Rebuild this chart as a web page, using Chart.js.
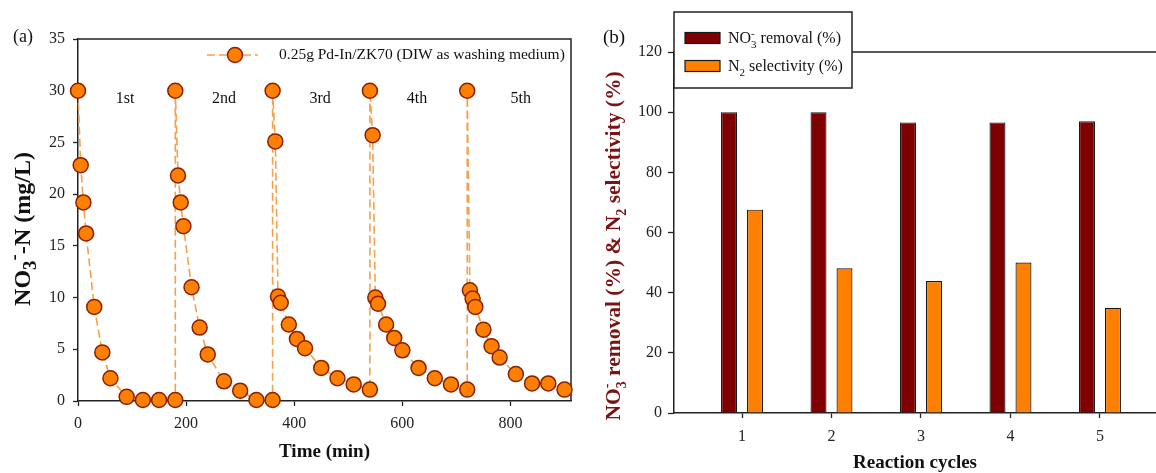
<!DOCTYPE html>
<html>
<head>
<meta charset="utf-8">
<script src="https://cdn.jsdelivr.net/npm/chart.js@4.4.1/dist/chart.umd.min.js"></script>
<style>
  html, body { margin: 0; padding: 0; background: #fff; overflow: hidden; }
  #panelA { position: absolute; left: 0; top: 0; }
  #panelB { position: absolute; left: 590px; top: 0; }
</style>
</head>
<body>
<canvas id="panelA" width="590" height="473"></canvas>
<canvas id="panelB" width="566" height="473"></canvas>
<script>
const SERIF = "'Liberation Serif', 'Times New Roman', serif";

// ---- Panel (a): nitrate-N concentration across five reuse cycles ----
const timeMin = [
  0, 5, 10, 15, 30, 45, 60, 90, 120, 150, 180,
  180, 185, 190, 195, 210, 225, 240, 270, 300, 330, 360,
  360, 365, 370, 375, 390, 405, 420, 450, 480, 510, 540,
  540, 545, 550, 555, 570, 585, 600, 630, 660, 690, 720,
  720, 725, 730, 735, 750, 765, 780, 810, 840, 870, 900
];
const nitrateN = [
  30, 22.8, 19.2, 16.2, 9.1, 4.7, 2.2, 0.4, 0.1, 0.1, 0.1,
  30, 21.8, 19.2, 16.9, 11.0, 7.1, 4.5, 1.9, 1.0, 0.1, 0.1,
  30, 25.1, 10.1, 9.5, 7.4, 6.0, 5.1, 3.2, 2.2, 1.6, 1.1,
  30, 25.7, 10.0, 9.4, 7.4, 6.1, 4.9, 3.2, 2.2, 1.6, 1.1,
  30, 10.7, 9.9, 9.1, 6.9, 5.3, 4.2, 2.6, 1.7, 1.7, 1.1
];
const seriesLabelA = '0.25g Pd-In/ZK70 (DIW as washing medium)';
const cycleNames = ['1st', '2nd', '3rd', '4th', '5th'];
const cycleNameTime = [87, 270, 448, 627, 819];
const cycleNameLevel = 29.2;
const xTicksA = [0, 200, 400, 600, 800];
const yTicksA = [0, 5, 10, 15, 20, 25, 30, 35];
const xTitleA = 'Time (min)';
const yTitleA = 'NO_{3}^{-}-N (mg/L)';

// ---- Panel (b): removal and N2 selectivity per cycle ----
const cycles = [1, 2, 3, 4, 5];
const removalPct = [100, 100, 96.6, 96.6, 97.0];
const selectivityPct = [67.6, 48.1, 43.9, 50.0, 35.0];
const seriesLabelsB = ['NO_{3}^{-} removal (%)', 'N_{2} selectivity (%)'];
const yTicksB = [0, 20, 40, 60, 80, 100, 120];
const xTitleB = 'Reaction cycles';
const yTitleB = 'NO_{3}^{-} removal (%) & N_{2} selectivity (%)';

// Small rich-text helper: "_{...}" subscript, "^{...}" superscript
function richLayout(ctx, str, size, weight, stack, subScale) {
  const re = /([_^])\{([^}]*)\}|([^_^]+)/g;
  const small = Math.round(size * subScale);
  const items = [];
  let cx = 0, lastSub = null, m;
  while ((m = re.exec(str)) !== null) {
    const kind = m[3] !== undefined ? 'n' : (m[1] === '_' ? 'sub' : 'sup');
    const text = m[3] !== undefined ? m[3] : m[2];
    const fs = kind === 'n' ? size : small;
    ctx.font = `${weight} ${fs}px ${SERIF}`;
    const w = ctx.measureText(text).width;
    const dy = kind === 'sub' ? size * 0.26 : kind === 'sup' ? -size * 0.42 : 0;
    let x = cx;
    if (kind === 'sup' && stack && lastSub) { x = lastSub.x; cx = Math.max(cx, x + w); }
    else cx += w;
    const item = { text, fs, x, dy };
    items.push(item);
    lastSub = kind === 'sub' ? item : null;
  }
  return { items, width: cx };
}
function drawRich(ctx, str, x, y, o) {
  const size = o.size, weight = o.weight || 'normal';
  ctx.save();
  const lay = richLayout(ctx, str, size, weight, o.stack !== false, o.subScale || 0.66);
  ctx.translate(x, y);
  if (o.rotate) ctx.rotate(o.rotate);
  const x0 = o.align === 'center' ? -lay.width / 2 : 0;
  ctx.fillStyle = o.color || '#111';
  ctx.textAlign = 'left';
  ctx.textBaseline = 'alphabetic';
  const base = size * 0.34;
  lay.items.forEach(it => {
    ctx.font = `${weight} ${it.fs}px ${SERIF}`;
    ctx.fillText(it.text, x0 + it.x, base + it.dy);
  });
  ctx.restore();
}

const axisColor = '#222';
const tickFont = { family: SERIF, size: 16 };

// Decorations for panel (a): closed frame, cycle names, legend, y title
const panelADecor = {
  id: 'panelADecor',
  beforeDatasetsDraw(chart) {
    const { ctx, chartArea: a } = chart;
    ctx.save();
    ctx.strokeStyle = axisColor;
    ctx.lineWidth = 1.5;
    ctx.beginPath();
    ctx.moveTo(a.left, a.top);
    ctx.lineTo(a.right, a.top);
    ctx.lineTo(a.right, a.bottom);
    ctx.stroke();
    ctx.restore();
  },
  afterDatasetsDraw(chart) {
    const { ctx, chartArea: a, scales: { x, y } } = chart;
    const ds = chart.data.datasets[0];

    ctx.save();
    ctx.font = `16px ${SERIF}`;
    ctx.fillStyle = '#111';
    ctx.textAlign = 'center';
    ctx.textBaseline = 'middle';
    cycleNames.forEach((n, i) => {
      ctx.fillText(n, x.getPixelForValue(cycleNameTime[i]), y.getPixelForValue(cycleNameLevel));
    });

    // legend entry
    const ly = a.top + 16;
    ctx.strokeStyle = ds.borderColor;
    ctx.lineWidth = ds.borderWidth;
    ctx.setLineDash(ds.borderDash);
    ctx.beginPath();
    ctx.moveTo(a.left + 129, ly);
    ctx.lineTo(a.left + 180, ly);
    ctx.stroke();
    ctx.setLineDash([]);
    ctx.beginPath();
    ctx.arc(a.left + 157, ly, ds.pointRadius, 0, Math.PI * 2);
    ctx.fillStyle = ds.pointBackgroundColor;
    ctx.fill();
    ctx.lineWidth = ds.pointBorderWidth;
    ctx.strokeStyle = ds.pointBorderColor;
    ctx.stroke();
    ctx.font = `15.5px ${SERIF}`;
    ctx.fillStyle = '#111';
    ctx.textAlign = 'left';
    ctx.fillText(ds.label, a.left + 201, ly);

    // panel tag
    ctx.font = `18px ${SERIF}`;
    ctx.fillText('(a)', 13, 37);
    ctx.restore();

    drawRich(ctx, yTitleA, 22, (a.top + a.bottom) / 2 + 9, {
      size: 24, weight: 'bold', align: 'center', rotate: -Math.PI / 2, stack: false, subScale: 0.78, color: '#111'
    });
  }
};

new Chart(document.getElementById('panelA'), {
  type: 'line',
  data: {
    datasets: [{
      label: seriesLabelA,
      data: timeMin.map((t, i) => ({ x: t, y: nitrateN[i] })),
      borderColor: '#f4a04c',
      borderWidth: 1.6,
      borderDash: [8, 4],
      pointRadius: 7.5,
      pointHoverRadius: 7.5,
      pointBackgroundColor: '#ff7f00',
      pointBorderColor: '#8a2000',
      pointBorderWidth: 1.5,
      tension: 0,
      clip: false
    }]
  },
  options: {
    responsive: false,
    animation: false,
    devicePixelRatio: 1,
    layout: { padding: { left: 0, top: 39, right: 19, bottom: 0 } },
    plugins: { legend: { display: false }, tooltip: { enabled: false } },
    scales: {
      x: {
        type: 'linear', min: 0, max: 912,
        afterBuildTicks: s => { s.ticks = xTicksA.map(v => ({ value: v })); },
        afterFit: s => { s.height = 72; },
        ticks: { font: tickFont, color: '#222', padding: 8, maxRotation: 0 },
        grid: { drawOnChartArea: false, drawTicks: true, tickLength: 5, tickColor: axisColor, tickWidth: 1.3 },
        border: { display: true, color: axisColor, width: 1.5 },
        title: {
          display: true, text: xTitleA, color: '#111',
          font: { family: SERIF, size: 19, weight: 'bold', lineHeight: 1 },
          padding: { top: 0, bottom: 11.5 }
        }
      },
      y: {
        type: 'linear', min: 0, max: 35,
        afterBuildTicks: s => { s.ticks = yTicksA.map(v => ({ value: v })); },
        afterFit: s => { s.width = 78; },
        ticks: { font: tickFont, color: '#222', padding: 8 },
        grid: { drawOnChartArea: false, drawTicks: true, tickLength: 5, tickColor: axisColor, tickWidth: 1.3 },
        border: { display: true, color: axisColor, width: 1.5 }
      }
    }
  },
  plugins: [panelADecor]
});

// Decorations for panel (b): top line, boxed legend, y title
const panelBDecor = {
  id: 'panelBDecor',
  beforeDatasetsDraw(chart) {
    const { ctx, chartArea: a } = chart;
    ctx.save();
    ctx.strokeStyle = axisColor;
    ctx.lineWidth = 1.5;
    ctx.beginPath();
    ctx.moveTo(a.left, a.top);
    ctx.lineTo(a.right, a.top);
    ctx.stroke();
    ctx.restore();
  },
  afterDatasetsDraw(chart) {
    const { ctx, chartArea: a } = chart;
    ctx.save();
    // legend box
    const bx = a.left, by = 12, bw = 178, bh = 76;
    ctx.fillStyle = '#fff';
    ctx.fillRect(bx, by, bw, bh);
    ctx.strokeStyle = axisColor;
    ctx.lineWidth = 1.5;
    ctx.strokeRect(bx, by, bw, bh);
    chart.data.datasets.forEach((ds, i) => {
      const cy = 38 + i * 28;
      ctx.fillStyle = ds.backgroundColor;
      ctx.fillRect(bx + 11, cy - 5.5, 35, 11);
      ctx.strokeStyle = ds.borderColor;
      ctx.lineWidth = 1.2;
      ctx.strokeRect(bx + 11, cy - 5.5, 35, 11);
      drawRich(ctx, ds.label, bx + 54, cy, { size: 16, color: '#111' });
    });
    ctx.font = `19px ${SERIF}`;
    ctx.fillStyle = '#111';
    ctx.textBaseline = 'middle';
    ctx.fillText('(b)', 13, 38);
    ctx.restore();

    drawRich(ctx, yTitleB, 23, 246, {
      size: 21.5, weight: 'bold', align: 'center', rotate: -Math.PI / 2, color: '#7a1414'
    });
  }
};

new Chart(document.getElementById('panelB'), {
  type: 'bar',
  data: {
    datasets: [
      {
        label: seriesLabelsB[0],
        data: cycles.map((c, i) => ({ x: c, y: removalPct[i] })),
        backgroundColor: '#7f0000',
        borderColor: '#1a1a1a',
        borderWidth: 1.2,
        barPercentage: 0.615,
        categoryPercentage: 0.581
      },
      {
        label: seriesLabelsB[1],
        data: cycles.map((c, i) => ({ x: c, y: selectivityPct[i] })),
        backgroundColor: '#ff8000',
        borderColor: '#1a1a1a',
        borderWidth: 1.2,
        barPercentage: 0.615,
        categoryPercentage: 0.581
      }
    ]
  },
  options: {
    responsive: false,
    animation: false,
    devicePixelRatio: 1,
    layout: { padding: { left: 0, top: 52, right: 0, bottom: 0 } },
    plugins: { legend: { display: false }, tooltip: { enabled: false } },
    scales: {
      x: {
        type: 'linear', min: 0.24, max: 5.626, offset: false,
        afterBuildTicks: s => { s.ticks = cycles.map(v => ({ value: v })); },
        afterFit: s => { s.height = 60; },
        ticks: { font: tickFont, color: '#222', padding: 9, maxRotation: 0 },
        grid: { offset: false, drawOnChartArea: false, drawTicks: true, tickLength: 5, tickColor: axisColor, tickWidth: 1.3 },
        border: { display: true, color: axisColor, width: 1.5 },
        title: {
          display: true, text: xTitleB, color: '#111',
          font: { family: SERIF, size: 19, weight: 'bold', lineHeight: 1 },
          padding: { top: 0, bottom: 0 }
        }
      },
      y: {
        type: 'linear', min: 0, max: 120,
        afterBuildTicks: s => { s.ticks = yTicksB.map(v => ({ value: v })); },
        afterFit: s => { s.width = 84; },
        ticks: { font: tickFont, color: '#222', padding: 6 },
        grid: { drawOnChartArea: false, drawTicks: true, tickLength: 6, tickColor: axisColor, tickWidth: 1.3 },
        border: { display: true, color: axisColor, width: 1.5 }
      }
    }
  },
  plugins: [panelBDecor]
});
</script>
</body>
</html>
